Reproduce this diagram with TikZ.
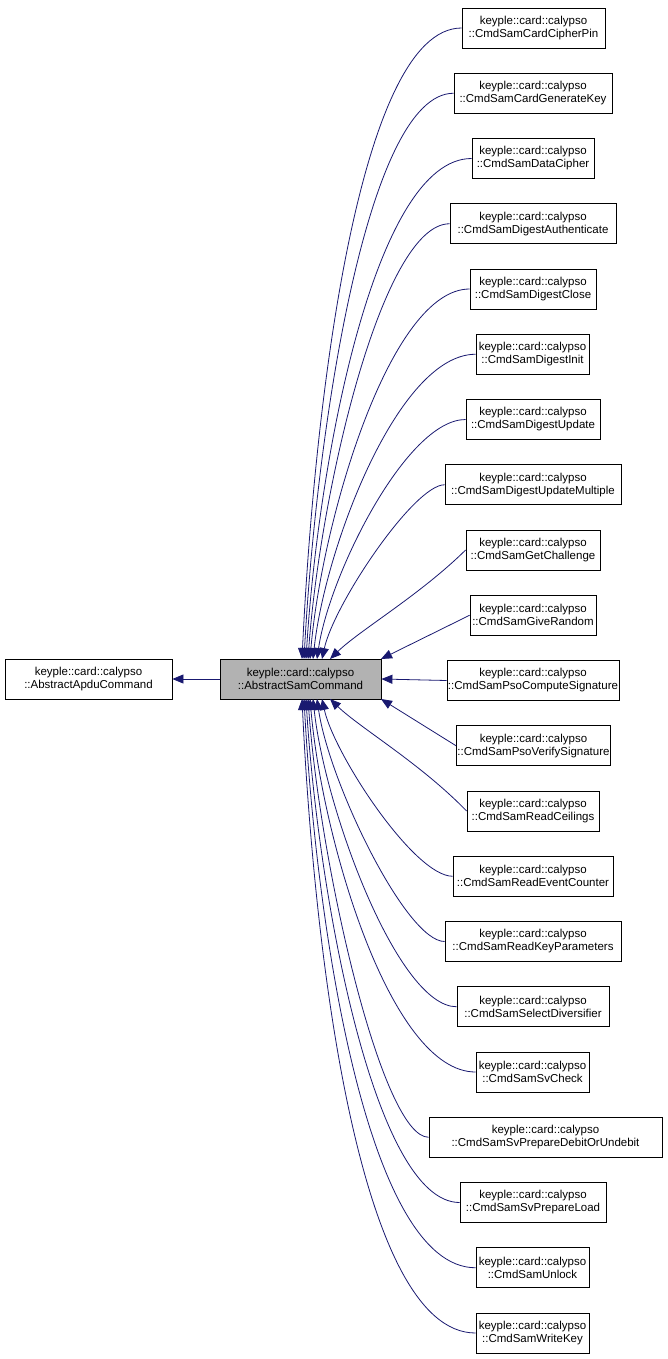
\documentclass[tikz,border=0pt]{standalone}
\usepackage{fontspec}
\setmainfont{Liberation Sans}
\usetikzlibrary{arrows.meta}
\definecolor{edge}{HTML}{191970}
\begin{document}
\begin{tikzpicture}[x=1pt,y=-1pt,
  box/.style={draw=black,line width=0.8pt,fill=white,align=center,font=\fontsize{11.5}{13}\selectfont,inner sep=1pt,minimum height=40pt},
  inh/.style={draw=edge,line width=0.8pt,{Triangle[length=11pt,width=9pt,fill=edge]}-}]
\useasboundingbox (0,0) rectangle (668,1359);
\node[box,fill=black!30,minimum width=161pt] (m) at (300.5,679) {keyple::card::calypso\\::AbstractSamCommand};
\node[box,minimum width=167pt] (a) at (88.5,679) {keyple::card::calypso\\::AbstractApduCommand};
\draw[inh] (a.east) -- (m.west);
\foreach \n/\l/\r/\t [count=\i] in {
 c1/462/605/CmdSamCardCipherPin,
 c2/454/612/CmdSamCardGenerateKey,
 c3/472/594/CmdSamDataCipher,
 c4/450/616/CmdSamDigestAuthenticate,
 c5/470/596/CmdSamDigestClose,
 c6/476/589/CmdSamDigestInit,
 c7/466/600/CmdSamDigestUpdate,
 c8/445/621/CmdSamDigestUpdateMultiple,
 c9/466/600/CmdSamGetChallenge,
 c10/470/596/CmdSamGiveRandom,
 c11/447/619/CmdSamPsoComputeSignature,
 c12/462/605/CmdSamPsoVerifySignature,
 c13/467/599/CmdSamReadCeilings,
 c14/453/613/CmdSamReadEventCounter,
 c15/445/621/CmdSamReadKeyParameters,
 c16/457/609/CmdSamSelectDiversifier,
 c17/476/589/CmdSamSvCheck,
 c18/429/662/CmdSamSvPrepareDebitOrUndebit,
 c19/460/606/CmdSamSvPrepareLoad,
 c20/476/589/CmdSamUnlock,
 c21/476/589/CmdSamWriteKey}{
  \pgfmathsetmacro{\cx}{(\l+\r)/2}
  \pgfmathsetmacro{\w}{\r-\l}
  \pgfmathsetmacro{\cy}{28+(\i-1)*65.25}
  \node[box,minimum width=\w pt] (\n) at (\cx,\cy) {keyple::card::calypso\\::\t};
}
\foreach \i/\x in {1/302,2/304,3/306,4/308,5/310,6/313,7/317,8/322}{
  \pgfmathsetmacro{\ax}{\x+12}
  \pgfmathsetmacro{\ay}{380+\i*28}
  \pgfmathsetmacro{\bx}{350+\i*8}
  \pgfmathsetmacro{\by}{28+(\i-1)*65.25}
  \coordinate (s\i) at (\x,659);
  \draw[inh] (s\i) .. controls (\ax,\ay) and (\bx,\by) .. (c\i.west);
}
\coordinate (s9) at (330,659);
\draw[inh] (s9) .. controls (360,630) and (420,595) .. (c9.west);
\coordinate (s10) at (381,659);
\draw[inh] (s10) -- (c10.west);
\draw[inh] (m.east) -- (c11.west);
\coordinate (s12) at (381,699);
\draw[inh] (s12) -- (c12.west);
\coordinate (s13) at (330,699);
\draw[inh] (s13) .. controls (360,728) and (420,763) .. (c13.west);
\foreach \i/\x in {14/322,15/317,16/313,17/310,18/308,19/306,20/304,21/302}{
  \pgfmathsetmacro{\k}{22-\i}
  \pgfmathsetmacro{\ax}{\x+12}
  \pgfmathsetmacro{\ay}{978-\k*28}
  \pgfmathsetmacro{\bx}{350+\k*8}
  \pgfmathsetmacro{\by}{28+(\i-1)*65.25}
  \coordinate (s\i) at (\x,699);
  \draw[inh] (s\i) .. controls (\ax,\ay) and (\bx,\by) .. (c\i.west);
}
\end{tikzpicture}
\end{document}
